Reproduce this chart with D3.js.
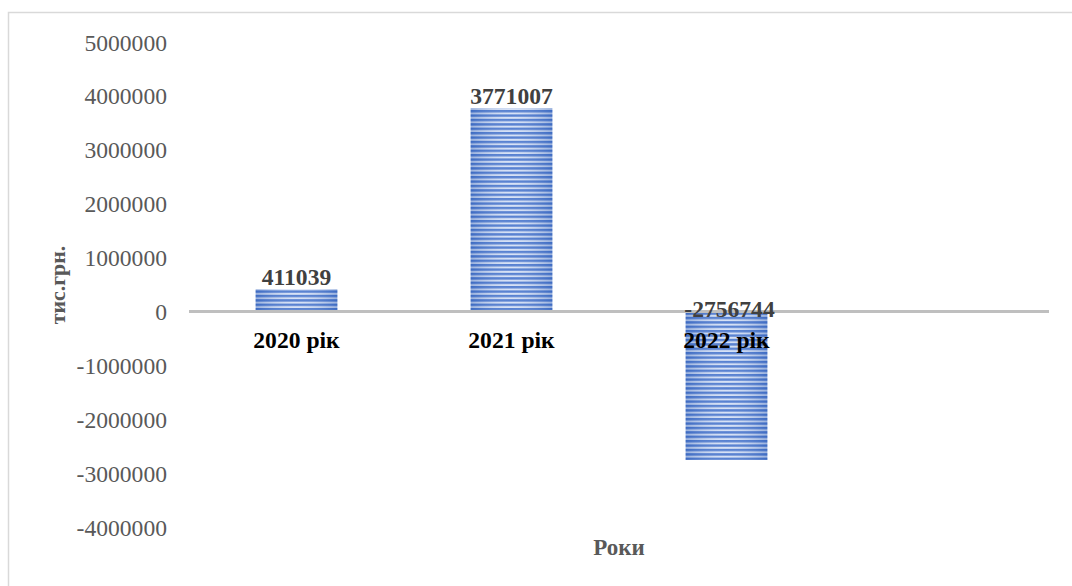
<!DOCTYPE html>
<html>
<head>
<meta charset="utf-8">
<script src="https://cdn.jsdelivr.net/npm/d3@7"></script>
<style>
  html, body { margin: 0; padding: 0; background: #fff; }
  svg { display: block; }
</style>
</head>
<body>
<svg id="chart" width="1072" height="586"></svg>
<script>
// Фінансовий результат за роками, тис. грн.
const categories = ["2020 рік", "2021 рік", "2022 рік", ""];
const values = [411039, 3771007, -2756744, null];
const tickValues = [5000000, 4000000, 3000000, 2000000, 1000000, 0, -1000000, -2000000, -3000000, -4000000];
const yTitle = "тис.грн.";
const xTitle = "Роки";

const W = 1072, H = 586;
const svg = d3.select("#chart");
const serif = "'Liberation Serif', 'Times New Roman', serif";

// chart frame
svg.append("path")
  .attr("d", `M8.5,${H} V12.5 H${W}`)
  .attr("fill", "none")
  .attr("stroke", "#d9d9d9")
  .attr("stroke-width", 1.5);

const plot = { left: 189, right: 1049, top: 42, bottom: 527 };

const y = d3.scaleLinear()
  .domain([-4000000, 5000000])
  .range([plot.bottom, plot.top]);

const x = d3.scaleBand()
  .domain(d3.range(categories.length))
  .range([plot.left, plot.right])
  .paddingInner(0.62)
  .paddingOuter(0.31);

// horizontal stripe fill
const defs = svg.append("defs");
const pat = defs.append("pattern")
  .attr("id", "stripes")
  .attr("patternUnits", "userSpaceOnUse")
  .attr("width", 8).attr("height", 4.4);
pat.append("rect").attr("width", 8).attr("height", 4.4).attr("fill", "#d3dff5");
pat.append("rect").attr("y", 0).attr("width", 8).attr("height", 2.4).attr("fill", "#4573cc");

const grad = defs.append("linearGradient").attr("id", "shade")
  .attr("x1", "0").attr("x2", "1").attr("y1", "0").attr("y2", "0");
grad.append("stop").attr("offset", "0").attr("stop-color", "#2f5cb0").attr("stop-opacity", 0.35);
grad.append("stop").attr("offset", "0.5").attr("stop-color", "#ffffff").attr("stop-opacity", 0.1);
grad.append("stop").attr("offset", "1").attr("stop-color", "#2f5cb0").attr("stop-opacity", 0.35);

const data = categories.map((c, i) => ({ i, c, v: values[i] })).filter(d => d.v !== null);

const bars = svg.append("g");
bars.selectAll("rect.bar")
  .data(data)
  .join("rect")
  .attr("class", "bar")
  .attr("x", d => x(d.i))
  .attr("width", x.bandwidth())
  .attr("y", d => y(Math.max(0, d.v)))
  .attr("height", d => Math.abs(y(d.v) - y(0)))
  .attr("fill", "url(#stripes)");
bars.selectAll("rect.shade")
  .data(data)
  .join("rect")
  .attr("class", "shade")
  .attr("x", d => x(d.i))
  .attr("width", x.bandwidth())
  .attr("y", d => y(Math.max(0, d.v)))
  .attr("height", d => Math.abs(y(d.v) - y(0)))
  .attr("fill", "url(#shade)");

// zero axis line
svg.append("line")
  .attr("x1", plot.left).attr("x2", plot.right)
  .attr("y1", y(0)).attr("y2", y(0))
  .attr("stroke", "#bfbfbf").attr("stroke-width", 3);

// y axis tick labels (plain hyphen for negatives)
const yAxis = d3.axisLeft(y)
  .tickValues(tickValues)
  .tickFormat(d => String(d))
  .tickSize(0)
  .tickPadding(0);
const gy = svg.append("g")
  .attr("transform", "translate(167,0)")
  .call(yAxis);
gy.select(".domain").remove();
gy.selectAll("text")
  .attr("font-family", serif)
  .attr("font-size", 23.6)
  .attr("fill", "#595959")
  .attr("dy", "0.34em");

// category labels below the zero line
svg.append("g").selectAll("text")
  .data(categories.map((c, i) => ({ c, i })).filter(d => d.c))
  .join("text")
  .attr("x", d => x(d.i) + x.bandwidth() / 2)
  .attr("y", y(0) + 37)
  .attr("text-anchor", "middle")
  .attr("font-family", serif)
  .attr("font-weight", "bold")
  .attr("font-size", 23.6)
  .attr("fill", "#000")
  .text(d => d.c);

// value labels
svg.append("g").selectAll("text")
  .data(data)
  .join("text")
  .attr("x", d => x(d.i) + x.bandwidth() / 2 + (d.v < 0 ? 3 : 0))
  .attr("y", d => d.v >= 0 ? y(d.v) - 4 : y(0) + 6)
  .attr("text-anchor", "middle")
  .attr("font-family", serif)
  .attr("font-weight", "bold")
  .attr("font-size", 23.6)
  .attr("fill", "#404040")
  .text(d => String(d.v));

// axis titles
svg.append("text")
  .attr("transform", `translate(65,285) rotate(-90)`)
  .attr("text-anchor", "middle")
  .attr("font-family", serif)
  .attr("font-weight", "bold")
  .attr("font-size", 21.8)
  .attr("fill", "#595959")
  .text(yTitle);

svg.append("text")
  .attr("x", 619)
  .attr("y", 555)
  .attr("text-anchor", "middle")
  .attr("font-family", serif)
  .attr("font-weight", "bold")
  .attr("font-size", 23)
  .attr("fill", "#595959")
  .text(xTitle);
</script>
</body>
</html>
